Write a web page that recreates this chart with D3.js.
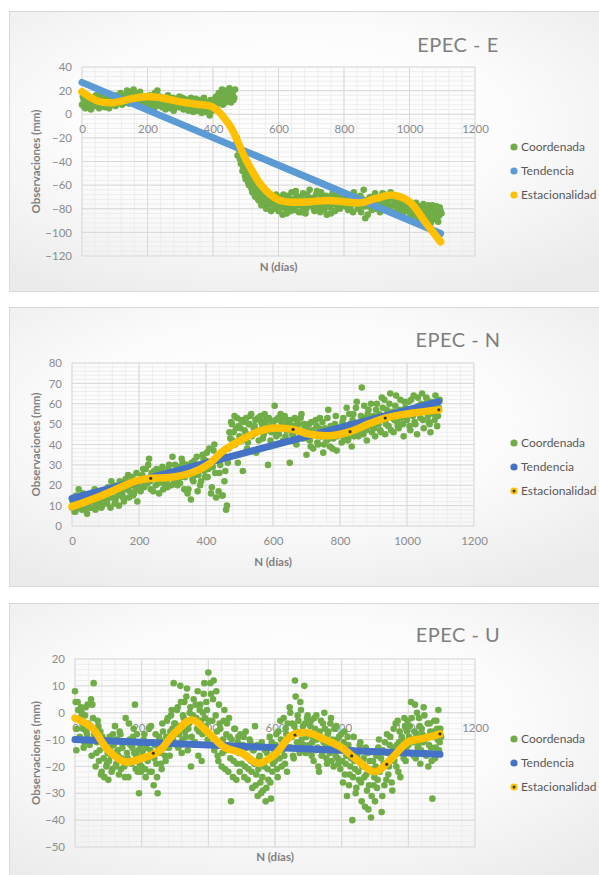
<!DOCTYPE html>
<html>
<head>
<meta charset="utf-8">
<script src="https://cdn.jsdelivr.net/npm/d3@7"></script>
<style>
  body { margin: 0; background: #fff; }
  svg { display: block; }
</style>
</head>
<body>
<svg id="chart" width="599" height="875"></svg>
<script>
/****************************************************************
    Data
/****************************************************************/
const seriesNames = ['Coordenada', 'Tendencia', 'Estacionalidad']
const xTicks = [0, 200, 400, 600, 800, 1000, 1200]

// EPEC - E : two readings per 5-day step (coordE at day 5i, coordE2 at 5i + 2.5), one row = 100 days
const stepE = 5
const coordE = [
  8, 12, 5, 10, 7, 13, 6, 9, 11, 7, 14, 16, 9, 12, 6, 10, 13, 7, 11, 8,
  12, 9, 14, 10, 15, 11, 16, 12, 17, 13, 19, 14, 18, 12, 16, 10, 15, 8, 13, 6,
  11, 14, 7, 12, 5, 10, 20, 8, 13, 6, 11, 4, 9, 12, 5, 10, 3, 8, 13, 6,
  11, 14, 4, 9, 12, 3, 8, 11, 2, 7, 10, 5, 12, 1, 8, 11, 4, 9, -1, 7,
  12, 6, 15, 9, 13, 17, 8, 20, 12, 16, 22, 10, 18, 14, -25, -35, -30, -42, -48, -44,
  -55, -52, -60, -57, -66, -62, -70, -67, -73, -64, -76, -70, -66, -78, -72, -68, -75, -80, -71, -77,
  -82, -73, -79, -68, -76, -84, -70, -78, -66, -74, -81, -69, -77, -72, -83, -67, -75, -80, -70, -64,
  -77, -71, -82, -68, -74, -79, -66, -73, -81, -69, -76, -71, -84, -67, -75, -70, -79, -65, -73, -77,
  -70, -78, -68, -74, -80, -71, -66, -76, -72, -79, -69, -75, -64, -88, -73, -78, -70, -81, -74, -67,
  -77, -72, -83, -70, -76, -68, -79, -73, -80, -71, -77, -74, -82, -70, -78, -75, -84, -72, -79, -76,
  -83, -78, -86, -80, -75, -88, -82, -78, -90, -84, -79, -87, -81, -92, -77, -85, -89, -80, -86, -82
]
const coordE2 = [
  15, 6, 11, 9, 14, 4, 12, 8, 16, 10, 5, 12, 18, 7, 13, 9, 5, 14, 9, 16,
  7, 16, 11, 18, 8, 14, 10, 20, 9, 16, 12, 21, 10, 17, 8, 19, 11, 14, 9, 15,
  8, 16, 10, 14, 18, 7, 12, 15, 9, 14, 7, 13, 16, 8, 11, 14, 7, 12, 9, 15,
  6, 10, 13, 7, 5, 12, 14, 6, 10, 13, 3, 9, 6, 11, 14, 2, 10, 6, 12, 3,
  9, 14, 4, 18, 11, 21, 14, 10, 19, 13, 17, 20, 12, 21, -20, -28, -38, -36, -45, -52,
  -48, -58, -54, -63, -58, -69, -63, -72, -68, -77, -66, -73, -80, -69, -76, -82, -71, -78, -68, -74,
  -70, -77, -85, -72, -80, -69, -75, -82, -72, -78, -65, -76, -83, -70, -78, -73, -84, -68, -77, -74,
  -72, -80, -75, -65, -78, -83, -70, -77, -74, -85, -71, -79, -69, -76, -82, -73, -68, -80, -75, -71,
  -76, -73, -81, -77, -69, -83, -75, -70, -80, -74, -83, -72, -78, -76, -85, -71, -79, -75, -69, -80,
  -73, -80, -75, -67, -81, -74, -70, -78, -66, -83, -72, -69, -77, -74, -81, -70, -78, -82, -75, -88,
  -80, -90, -76, -84, -92, -79, -86, -83, -76, -81, -90, -77, -85, -80, -88, -83, -78, -91, -79, -84
]
const trendDaysE = [0, 1095]
const trendE = [27, -101]
const seasonDaysE = [0, 50, 100, 150, 200, 250, 300, 350, 400, 450, 500, 550, 600, 650, 700, 750, 800, 850, 900, 950, 1000, 1050, 1095]
const seasonE = [19, 11, 10, 13, 15, 13.5, 10.5, 8.5, 6, -9, -38, -61, -72.5, -74.5, -74, -73, -74, -75, -71, -68.5, -74, -92, -108]

// EPEC - N
const stepN = 5
const coordN = [
  9, 14, 7, 12, 18, 10, 8, 15, 11, 6, 13, 9, 16, 12, 8, 14, 11, 17, 10, 13,
  15, 11, 18, 9, 14, 20, 13, 17, 10, 21, 16, 12, 23, 18, 14, 20, 24, 16, 19, 12,
  22, 17, 25, 19, 28, 21, 33, 18, 24, 27, 20, 26, 16, 23, 29, 21, 25, 19, 30, 24,
  34, 22, 27, 20, 29, 24, 31, 18, 26, 16, 28, 13, 23, 32, 25, 17, 30, 22, 35, 27,
  32, 24, 38, 16, 29, 40, 14, 33, 26, 36, 15, 22, 8, 31, 46, 51, 42, 54, 48, 31,
  44, 52, 27, 47, 53, 41, 50, 55, 45, 49, 36, 53, 47, 51, 43, 55, 49, 30, 52, 46,
  50, 59, 44, 53, 48, 51, 42, 54, 47, 52, 31, 49, 45, 53, 40, 50, 46, 55, 43, 48,
  35, 47, 42, 51, 38, 45, 49, 40, 53, 44, 36, 48, 42, 57, 39, 46, 43, 50, 37, 45,
  48, 41, 53, 46, 58, 43, 50, 39, 55, 47, 61, 44, 51, 68, 45, 53, 42, 57, 49, 46,
  54, 44, 60, 50, 47, 63, 52, 45, 57, 49, 65, 53, 46, 59, 51, 48, 62, 55, 44, 58,
  52, 61, 47, 56, 64, 50, 45, 59, 53, 65, 48, 57, 62, 51, 46, 60, 55, 64, 49, 58
]
const coordN2 = [
  12, 7, 15, 10, 9, 13, 16, 8, 14, 11, 9, 15, 12, 18, 10, 16, 13, 9, 15, 17,
  12, 19, 14, 22, 17, 11, 19, 15, 22, 18, 14, 21, 19, 25, 17, 22, 15, 21, 26, 18,
  19, 24, 28, 20, 23, 30, 22, 26, 17, 24, 28, 21, 27, 23, 18, 26, 22, 28, 25, 20,
  26, 30, 23, 28, 21, 33, 27, 24, 30, 18, 27, 31, 22, 28, 34, 25, 20, 29, 33, 24,
  36, 28, 30, 19, 37, 26, 33, 17, 30, 15, 35, 27, 10, 38, 43, 50, 46, 40, 53, 49,
  48, 42, 51, 46, 38, 50, 54, 44, 48, 52, 46, 42, 54, 50, 45, 52, 47, 53, 42, 50,
  46, 52, 48, 45, 55, 49, 53, 44, 50, 47, 52, 45, 49, 41, 51, 47, 53, 44, 50, 46,
  43, 50, 39, 47, 45, 52, 41, 48, 44, 51, 40, 46, 53, 43, 49, 38, 47, 54, 44, 48,
  45, 51, 43, 49, 42, 55, 47, 52, 44, 58, 49, 46, 54, 50, 59, 47, 55, 51, 60, 52,
  48, 57, 51, 55, 46, 58, 62, 50, 54, 60, 47, 56, 52, 64, 49, 57, 53, 50, 61, 54,
  56, 49, 62, 54, 51, 58, 63, 55, 60, 52, 57, 63, 54, 50, 61, 56, 52, 59, 54, 62
]
const trendDaysN = [0, 1095]
const trendN = [13.5, 61]
const seasonDaysN = [0, 90, 190, 235, 290, 355, 405, 455, 505, 555, 595, 660, 710, 770, 830, 890, 935, 1010, 1095]
const seasonN = [9.5, 15, 22, 23.4, 23.8, 26, 30, 37.3, 42.2, 46.3, 48, 47.4, 45, 44.3, 46.3, 50.4, 53, 55.3, 57]
const markDaysN = [235, 660, 830, 935, 1095]
const markValsN = [23.4, 47.4, 46.3, 53, 57]

// EPEC - U : two readings per 4-day step, one row = 100 days
const stepU = 4
const coordU = [
  8, -14, 4, 1, -2, 0, -6, -11, 2, -8, -4, -12, 5, 3, 11, -9, -15, -3, -18, -7, -22, -10, -24, -13, -19,
  -25, -9, -16, -21, -12, -5, -19, -14, -23, -8, -17, -11, -20, -2, -15, -24, -10, -18, -13, -6, 3, -16, -22, -30, -12,
  -20, -14, -8, -24, -17, -11, -22, -5, -16, -27, -12, -19, -30, -9, -15, -21, -7, -13, -18, -3, -10, -16, -1, -6, 11,
  -4, -12, 2, -8, 10, -15, -1, 4, -9, 9, -6, 0, -20, -3, 5, -11, -2, 8, -7, 3, -18, 0, 11, -5, 1,
  15, -8, 7, -3, 12, -12, 8, -16, 3, -6, -20, -10, 1, -14, -4, -22, -9, -33, -13, -18, -6, -25, -11, -15, -8,
  -19, -12, -24, -7, -16, -21, -10, -18, -28, -14, -5, -23, -31, -17, -26, -11, -29, -20, -33, -15, -25, -9, -32, -22, -13,
  -18, -8, -24, -14, -3, -20, -11, -16, -6, -22, -9, 2, -13, -4, -17, 12, -7, -1, -12, 4, -10, -5, 10, -15, -2,
  -8, -14, -3, -11, -18, -6, -1, -13, -22, -9, -16, -4, 0, -12, -19, -7, -15, -2, -10, -20, -13, -5, -17, -9, -21,
  -14, -26, -7, -19, -31, -12, -23, -17, -40, -9, -21, -28, -15, -25, -11, -33, -19, -24, -13, -29, -36, -18, -39, -22, -27,
  -33, -16, -25, -10, -21, -37, -14, -27, -19, -8, -23, -12, -17, -29, -6, -15, -20, -3, -11, -24, -9, -14, -2, -18, -7,
  -12, -5, 4, -10, -16, 3, -8, -13, -2, -19, -6, -11, -1, -15, -9, -20, -4, -13, -32, -7, -17, -3, -10, -14, -6
]
const coordU2 = [
  4, -6, 1, -9, 2, -4, -13, -1, -7, 3, -10, -5, -16, -2, -8, -20, -11, -5, -14, -23, -9, -17, -12, -20, -15,
  -18, -13, -22, -8, -15, -20, -10, -16, -7, -21, -13, -18, -24, -11, -17, -4, -12, -19, -9, -15, -21, -8, -14, -19, -22,
  -16, -10, -21, -13, -18, -6, -14, -22, -11, -17, -8, -24, -14, -10, -19, -4, -12, -16, -9, -2, -13, -7, 1, -10, -4,
  -8, 1, -13, -5, 4, -10, -2, -7, 6, -14, -4, 2, -9, -1, -11, 3, -6, -16, 1, -3, -8, 7, -2, 4, -10,
  -3, 11, -9, 5, -14, -1, -7, -18, -4, -11, -15, -3, -21, -8, -12, -2, -17, -10, -24, -6, -14, -19, -9, -22, -12,
  -15, -9, -20, -13, -25, -17, -11, -22, -14, -19, -27, -12, -21, -16, -30, -24, -18, -14, -28, -21, -17, -26, -11, -19, -15,
  -12, -21, -7, -17, -10, -14, -2, -19, -8, -4, -13, 0, -9, -16, -5, 6, -11, -3, -15, 1, -7, -12, -4, -9, -1,
  -12, -5, -16, -9, -2, -14, -10, -20, -7, -3, -15, -11, -6, -17, -8, -13, -4, -18, -12, -6, -16, -10, -19, -14, -8,
  -18, -11, -23, -16, -9, -27, -20, -14, -24, -18, -30, -16, -22, -12, -26, -20, -17, -35, -23, -15, -27, -21, -31, -18, -24,
  -20, -28, -13, -22, -17, -31, -19, -11, -25, -15, -20, -9, -26, -13, -18, -4, -12, -22, -7, -15, -10, -17, -5, -13, -3,
  -9, -15, -2, -11, -7, -17, 0, -12, -5, -14, -8, 2, -10, -16, -4, -12, -7, -18, -9, -3, -13, -6, 1, -11, -9
]
const trendDaysU = [0, 1095]
const trendU = [-10, -15.5]
const seasonDaysU = [0, 50, 100, 150, 200, 250, 300, 350, 400, 450, 500, 550, 600, 650, 700, 750, 800, 850, 900, 950, 1000, 1050, 1095]
const seasonU = [-2, -5.5, -14, -18.3, -17, -14.5, -7.5, -2.7, -7.5, -13, -15, -18.8, -15.5, -8.5, -7.5, -10, -13, -18, -22, -17, -10.8, -9.5, -7.9]
const markDaysU = [235, 660, 830, 935, 1095]
const markValsU = [-15.1, -8.3, -16.1, -19.2, -7.9]

/****************************************************************
    Layout and styles
/****************************************************************/
const style = {
  font: 'Lato, "Open Sans", sans-serif',
  green: '#70AD47',
  yellow: '#FFC000',
  gridMajor: '#d9d9d9',
  gridMinor: '#ededed',
  tickText: '#8c8c8c',
  axisTitle: '#808080',
  legendText: '#595959',
  dotR: 3.3,
  lineW: 7
}

const panels = [
  {
    title: 'EPEC - E', top: 11, bottom: 291, titleY: 52,
    x0: 82, x1: 475, y0: 67, y1: 256, yDomain: [-120, 40], yStep: 20, yMinor: 4, labelAt: 0,
    xTitleY: 271, legendY: [147, 171, 195], blue: '#5B9BD5',
    coord: [coordE, coordE2], step: stepE, trendDays: trendDaysE, trend: trendE,
    seasonDays: seasonDaysE, season: seasonE, markDays: [], markVals: []
  },
  {
    title: 'EPEC - N', top: 307, bottom: 586, titleY: 347,
    x0: 72, x1: 474, y0: 363, y1: 526, yDomain: [0, 80], yStep: 10, yMinor: 2, labelAt: 0,
    xTitleY: 566, legendY: [443, 467, 491], blue: '#4472C4',
    coord: [coordN, coordN2], step: stepN, trendDays: trendDaysN, trend: trendN,
    seasonDays: seasonDaysN, season: seasonN, markDays: markDaysN, markVals: markValsN
  },
  {
    title: 'EPEC - U', top: 603, bottom: 890, titleY: 642,
    x0: 75, x1: 475, y0: 659, y1: 847, yDomain: [-50, 20], yStep: 10, yMinor: 2, labelAt: 0,
    xTitleY: 861, legendY: [739, 763, 787], blue: '#4472C4',
    coord: [coordU, coordU2], step: stepU, trendDays: trendDaysU, trend: trendU,
    seasonDays: seasonDaysU, season: seasonU, markDays: markDaysU, markVals: markValsU
  }
]

const svg = d3.select('#chart')

const grad = svg.append('defs').append('radialGradient')
  .attr('id', 'panelFill').attr('cx', '45%').attr('cy', '40%').attr('r', '70%')
grad.append('stop').attr('offset', '0%').attr('stop-color', '#ffffff')
grad.append('stop').attr('offset', '50%').attr('stop-color', '#fcfcfc')
grad.append('stop').attr('offset', '100%').attr('stop-color', '#ebebeb')

/****************************************************************
    One chart panel
/****************************************************************/
function drawPanel(p) {
  const g = svg.append('g')
  const x = d3.scaleLinear().domain([0, 1200]).range([p.x0, p.x1])
  const y = d3.scaleLinear().domain(p.yDomain).range([p.y1, p.y0])

  g.append('rect')
    .attr('x', 9.5).attr('y', p.top + 0.5)
    .attr('width', 620).attr('height', p.bottom - p.top)
    .attr('fill', 'url(#panelFill)')
    .attr('stroke', '#d9d9d9')

  g.append('text')
    .attr('x', 458).attr('y', p.titleY)
    .attr('text-anchor', 'middle')
    .style('font-family', style.font).style('font-size', '20px')
    .style('letter-spacing', '0.5px')
    .attr('fill', '#7f7f7f')
    .text(p.title)

  // gridlines
  const grid = g.append('g')
  const xMinor = d3.range(0, 1201, 40)
  const yMinor = d3.range(p.yDomain[0], p.yDomain[1] + 0.001, p.yMinor)
  const yMajor = d3.range(p.yDomain[0], p.yDomain[1] + 0.001, p.yStep)
  grid.selectAll('.vmin').data(xMinor).join('line')
    .attr('x1', d => x(d)).attr('x2', d => x(d)).attr('y1', p.y0).attr('y2', p.y1)
    .attr('stroke', style.gridMinor)
  grid.selectAll('.hmin').data(yMinor).join('line')
    .attr('x1', p.x0).attr('x2', p.x1).attr('y1', d => y(d)).attr('y2', d => y(d))
    .attr('stroke', style.gridMinor)
  grid.selectAll('.vmaj').data(xTicks).join('line')
    .attr('x1', d => x(d)).attr('x2', d => x(d)).attr('y1', p.y0).attr('y2', p.y1)
    .attr('stroke', style.gridMajor)
  grid.selectAll('.hmaj').data(yMajor).join('line')
    .attr('x1', p.x0).attr('x2', p.x1).attr('y1', d => y(d)).attr('y2', d => y(d))
    .attr('stroke', style.gridMajor)

  // axes (labels only)
  const yAxis = g.append('g')
    .attr('transform', `translate(${p.x0},0)`)
    .call(d3.axisLeft(y).tickValues(yMajor).tickSize(0).tickPadding(10).tickFormat(d3.format('d')))
  const xAxis = g.append('g')
    .attr('transform', `translate(0,${y(p.labelAt)})`)
    .call(d3.axisBottom(x).tickValues(xTicks).tickSize(0).tickPadding(11).tickFormat(d3.format('d')))
  for (const a of [yAxis, xAxis]) {
    a.select('.domain').remove()
    a.selectAll('text')
      .style('font-family', style.font).style('font-size', '11.5px')
      .attr('fill', style.tickText)
  }

  g.append('text')
    .attr('transform', `translate(40,${(p.y0 + p.y1) / 2}) rotate(-90)`)
    .attr('text-anchor', 'middle')
    .style('font-family', style.font).style('font-size', '11.5px').style('font-weight', 'bold')
    .attr('fill', style.axisTitle)
    .text('Observaciones (mm)')

  g.append('text')
    .attr('x', (p.x0 + p.x1) / 2).attr('y', p.xTitleY)
    .attr('text-anchor', 'middle')
    .style('font-family', style.font).style('font-size', '11.5px').style('font-weight', 'bold')
    .attr('fill', style.axisTitle)
    .text('N (días)')

  // observations: first array on the step, second half a step later
  const obs = []
  p.coord.forEach((arr, k) => arr.forEach((v, i) => obs.push([i * p.step + k * p.step / 2, v])))
  g.append('g').selectAll('circle').data(obs).join('circle')
    .attr('cx', d => x(d[0]))
    .attr('cy', d => y(d[1]))
    .attr('r', style.dotR)
    .attr('fill', style.green)

  // trend
  const trendPts = p.trendDays.map((d, i) => [d, p.trend[i]])
  g.append('path')
    .attr('d', d3.line().x(d => x(d[0])).y(d => y(d[1]))(trendPts))
    .attr('fill', 'none').attr('stroke', p.blue)
    .attr('stroke-width', style.lineW).attr('stroke-linecap', 'round')

  // seasonality
  const seasonPts = p.seasonDays.map((d, i) => [d, p.season[i]])
  g.append('path')
    .attr('d', d3.line().curve(d3.curveCatmullRom.alpha(0.5)).x(d => x(d[0])).y(d => y(d[1]))(seasonPts))
    .attr('fill', 'none').attr('stroke', style.yellow)
    .attr('stroke-width', style.lineW + 0.5).attr('stroke-linecap', 'round')

  g.append('g').selectAll('circle')
    .data(p.markDays.map((d, i) => [d, p.markVals[i]]))
    .join('circle')
    .attr('cx', d => x(d[0])).attr('cy', d => y(d[1]))
    .attr('r', 1.6).attr('fill', '#3a3a1a')

  // legend
  const colors = [style.green, p.blue, style.yellow]
  const leg = g.append('g').selectAll('g').data(seriesNames).join('g')
    .attr('transform', (d, i) => `translate(514,${p.legendY[i]})`)
  leg.append('circle').attr('r', 3.6).attr('fill', (d, i) => colors[i])
  leg.filter((d, i) => i === 2 && p.markDays.length > 0)
    .append('circle').attr('r', 1.5).attr('fill', '#3a3a1a')
  leg.append('text')
    .attr('x', 7).attr('dy', '0.35em')
    .style('font-family', style.font).style('font-size', '12px')
    .attr('fill', style.legendText)
    .text(d => d)
}

panels.forEach(drawPanel)
</script>
</body>
</html>
